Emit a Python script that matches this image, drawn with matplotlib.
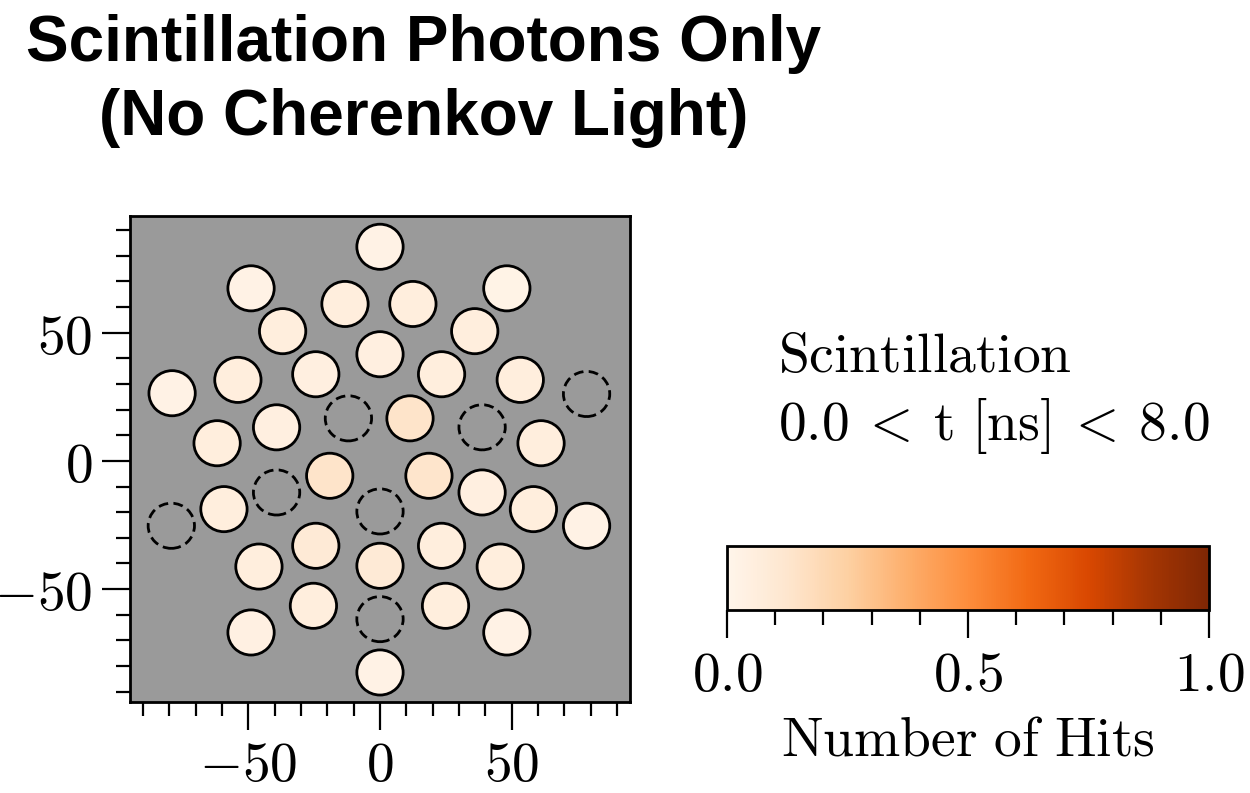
import matplotlib
matplotlib.use("Agg")
import matplotlib.pyplot as plt
import numpy as np
from matplotlib.patches import Circle
from matplotlib.ticker import MultipleLocator, FixedLocator, FixedFormatter
from matplotlib import cm, colors

plt.rcParams['mathtext.fontset'] = 'cm'

# PMT layout (mm) and scintillation hit fraction per tube
pmt_x = [0, -49, 48.2, -13.3, 12.5, -37, 36, 0, -54, -24.4, 23.4, 53.3, -79,
         11.4, -39.3, -61.9, 61.2, -19.1, 18.6, 38.8, -59.3, 58.3, 78.5,
         -24.4, 23.4, -46, 45.7, 0, -25.3, 24.9, -49, 48.2, 0]
pmt_y = [83.5, 67.3, 67.3, 61.2, 61.2, 50.6, 50.6, 41.6, 31.6, 33.8, 33.8, 31.6, 26.4,
         16.6, 13.1, 6.9, 6.9, -5.8, -5.8, -12.3, -18.8, -18.8, -25.3,
         -33.1, -33.1, -41.2, -41.2, -40.9, -56.5, -56.5, -66.9, -66.9, -82.5]
hits = [0.03, 0.03, 0.02, 0.06, 0.06, 0.06, 0.06, 0.05, 0.06, 0.05, 0.06, 0.06, 0.03,
        0.14, 0.05, 0.06, 0.06, 0.14, 0.13, 0.05, 0.06, 0.06, 0.03,
        0.09, 0.06, 0.06, 0.06, 0.09, 0.06, 0.06, 0.04, 0.03, 0.03]

# tubes with no recorded hits (drawn as dashed outlines)
empty_x = [78.5, -12, 38.8, -39.3, -79.3, 0, 0]
empty_y = [26.1, 16.6, 13.1, -12.3, -25.3, -19.7, -61.7]

pmt_radius = 8.8
tick_vals = [-50, 0, 50]
tick_text = [r'$-50$', r'$0$', r'$50$']
cbar_ticks = [0.0, 0.5, 1.0]
cbar_text = [r'$0.0$', r'$0.5$', r'$1.0$']

cmap = plt.get_cmap('Oranges')
norm = colors.Normalize(vmin=0.0, vmax=1.0)

fig = plt.figure(figsize=(12.5, 7.93), dpi=100)
ax = fig.add_axes([0.104, 0.1148, 0.400, 0.6128])
ax.set_facecolor('#9a9a9a')

for x, y, h in zip(pmt_x, pmt_y, hits):
    ax.add_patch(Circle((x, y), pmt_radius, facecolor=cmap(norm(h)),
                        edgecolor='black', lw=2.0, zorder=3))
for x, y in zip(empty_x, empty_y):
    ax.add_patch(Circle((x, y), pmt_radius, facecolor='none',
                        edgecolor='black', lw=2.0, ls=(0, (3.5, 1.9)), zorder=3))

ax.set_xlim(-95, 95)
ax.set_ylim(-94, 95.5)

for axis in (ax.xaxis, ax.yaxis):
    axis.set_major_locator(FixedLocator(tick_vals))
    axis.set_major_formatter(FixedFormatter(tick_text))
    axis.set_minor_locator(MultipleLocator(10))
ax.tick_params(which='major', direction='out', length=20, width=1.6,
               labelsize=40, pad=7)
ax.tick_params(which='minor', direction='out', length=10, width=1.6)
for s in ax.spines.values():
    s.set_linewidth(2.0)

# colour bar
cax = fig.add_axes([0.5816, 0.2308, 0.3856, 0.0807])
sm = cm.ScalarMappable(norm=norm, cmap=cmap)
cb = fig.colorbar(sm, cax=cax, orientation='horizontal')
cb.set_ticks(cbar_ticks)
cb.set_ticklabels(cbar_text)
cax.xaxis.set_minor_locator(MultipleLocator(0.1))
cax.tick_params(which='major', direction='out', length=20, width=1.6,
                labelsize=40, pad=8)
cax.tick_params(which='minor', direction='out', length=11, width=1.6)
cb.outline.set_linewidth(2.0)
cb.set_label(r'$\mathrm{Number\ of\ Hits}$', fontsize=40, labelpad=8)

fig.text(0.6224, 0.531, r'$\mathrm{Scintillation}$', fontsize=40,
         ha='left', va='baseline')
fig.text(0.6224, 0.445, r'$0.0\:<\:\mathrm{t}\ [\mathrm{ns}]\:<\:8.0$',
         fontsize=40, ha='left', va='baseline')

fig.text(0.339, 0.982, 'Scintillation Photons Only\n(No Cherenkov Light)',
         fontsize=46, fontweight='bold', family='Liberation Sans',
         ha='center', va='top', multialignment='center', linespacing=1.3)

fig.savefig('out.png', dpi=100)
